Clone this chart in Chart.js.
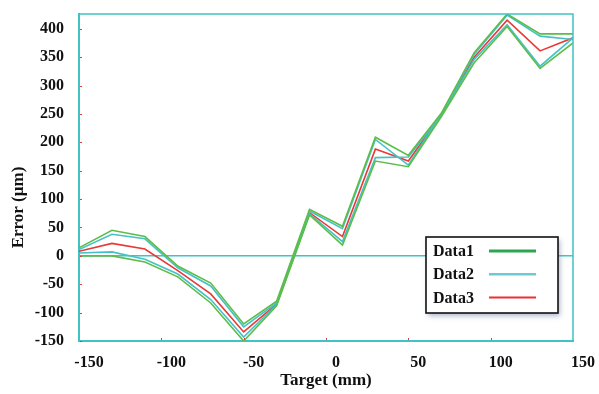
<!DOCTYPE html>
<html>
<head>
<meta charset="utf-8">
<script src="https://cdn.jsdelivr.net/npm/chart.js@4.4.1/dist/chart.umd.min.js"></script>
<style>
  html, body { margin: 0; padding: 0; background: #fff; }
</style>
</head>
<body>
<canvas id="chart" width="599" height="394"></canvas>
<script>
// target positions (mm)
const targets = [-150, -130, -110, -90, -70, -50, -30, -10, 10, 30, 50, 70, 90, 110, 130, 150];

// error traces (um); Data1 and Data2 each come as an upper and a lower trace
const data1Upper = [14, 45, 34, -18, -48, -120, -80, 82, 52, 209, 177, 251, 358, 426, 391, 391];
const data1Lower = [0, 0, -11, -37, -83, -150, -88, 72, 19, 167, 157, 245, 340, 404, 330, 375];
const data2Upper = [11, 38, 30, -21, -53, -125, -83, 79, 48, 205, 160, 249, 355, 424, 387, 381];
const data2Lower = [5, 7, -6, -32, -77, -143, -86, 74, 25, 173, 174, 247, 346, 407, 334, 384];
const data3 = [8, 22, 12, -26, -67, -134, -85, 76, 34, 188, 167, 248, 350, 415, 361, 384];

const legendLabels = ['Data1', 'Data2', 'Data3'];
const xTicks = [-150, -100, -50, 0, 50, 100, 150];
const yTicks = [-150, -100, -50, 0, 50, 100, 150, 200, 250, 300, 350, 400];

const GREEN = '#5cbd48';
const CYAN = '#45c2c8';
const RED = '#e83838';
const FRAME = '#3fc3c3';
const FONT = '"Liberation Serif", "Times New Roman", serif';

// legend swatches are drawn a bit heavier than the traces
const legendStyles = [
  { color: '#2fa552', width: 3 },
  { color: '#6ccbd2', width: 2.5 },
  { color: '#ee2f2f', width: 2 }
];

function trace(label, values, color) {
  return {
    label,
    data: targets.map((x, i) => ({ x, y: values[i] })),
    borderColor: color,
    borderWidth: 1.6,
    pointRadius: 0,
    tension: 0,
    fill: false
  };
}

// frame, small red tick marks, y title and the boxed legend
const decorations = {
  id: 'decorations',
  afterDraw(chart) {
    const { ctx, chartArea: a, scales } = chart;
    ctx.save();

    ctx.strokeStyle = FRAME;
    ctx.lineWidth = 1.5;
    ctx.beginPath();
    ctx.moveTo(a.left, a.top);
    ctx.lineTo(a.right, a.top);
    ctx.lineTo(a.right, a.bottom);
    ctx.stroke();

    ctx.fillStyle = RED;
    yTicks.forEach(v => {
      const y = scales.y.getPixelForValue(v);
      ctx.fillRect(a.left + 1, Math.round(y), 2, 1);
    });
    xTicks.slice(1, -1).forEach(v => {
      const x = scales.x.getPixelForValue(v);
      ctx.fillRect(Math.round(x), a.bottom - 3, 1, 2);
    });

    // y axis title
    ctx.fillStyle = '#111';
    ctx.font = 'bold 17px ' + FONT;
    ctx.textAlign = 'center';
    ctx.textBaseline = 'middle';
    ctx.translate(19, (a.top + a.bottom) / 2 + 30);
    ctx.rotate(-Math.PI / 2);
    ctx.fillText('Error (\u00b5m)', 0, 0);
    ctx.restore();

    // legend box
    ctx.save();
    const bx = a.right - 147, by = a.top + 223, bw = 132, bh = 76;
    ctx.shadowColor = 'rgba(110, 130, 170, 0.55)';
    ctx.shadowBlur = 5;
    ctx.shadowOffsetX = 2;
    ctx.shadowOffsetY = 3;
    ctx.fillStyle = '#fff';
    ctx.fillRect(bx, by, bw, bh);
    ctx.shadowColor = 'transparent';
    ctx.strokeStyle = '#111';
    ctx.lineWidth = 1.6;
    ctx.strokeRect(bx, by, bw, bh);

    ctx.font = 'bold 16px ' + FONT;
    ctx.textAlign = 'left';
    ctx.textBaseline = 'middle';
    legendLabels.forEach((label, i) => {
      const y = by + 15 + i * 23.3;
      ctx.fillStyle = '#111';
      ctx.fillText(label, bx + 7, y);
      ctx.strokeStyle = legendStyles[i].color;
      ctx.lineWidth = legendStyles[i].width;
      ctx.beginPath();
      ctx.moveTo(bx + 63, y - 1);
      ctx.lineTo(bx + 110, y - 1);
      ctx.stroke();
    });
    ctx.restore();
  }
};

new Chart(document.getElementById('chart'), {
  type: 'line',
  data: {
    datasets: [
      trace('Data1', data1Upper, GREEN),
      trace('Data1', data1Lower, GREEN),
      trace('Data2', data2Upper, CYAN),
      trace('Data2', data2Lower, CYAN),
      trace('Data3', data3, RED)
    ]
  },
  options: {
    responsive: false,
    animation: false,
    layout: { padding: { top: 14, right: 26, left: 0, bottom: 0 } },
    plugins: {
      legend: { display: false },
      tooltip: { enabled: false }
    },
    scales: {
      x: {
        type: 'linear',
        min: -150,
        max: 150,
        afterBuildTicks: s => { s.ticks = xTicks.map(value => ({ value })); },
        afterFit: s => { s.height = 53; },
        grid: { drawOnChartArea: false, drawTicks: false, color: 'transparent' },
        border: { color: FRAME, width: 2 },
        ticks: {
          color: '#111',
          font: { family: FONT, size: 16, weight: 'bold' },
          padding: 12,
          labelOffset: 10,
          maxRotation: 0
        },
        title: {
          display: true,
          text: 'Target (mm)',
          color: '#111',
          font: { family: FONT, size: 17, weight: 'bold' },
          padding: { top: 0, bottom: 3 },
          align: 'center'
        }
      },
      y: {
        min: -150,
        max: 426,
        afterBuildTicks: s => { s.ticks = yTicks.map(value => ({ value })); },
        afterFit: s => {
          s.width = 79;
          s.paddingTop = 0;
          s.paddingBottom = 0;
        },
        grid: {
          drawTicks: false,
          lineWidth: 1.5,
          color: c => (c.tick && c.tick.value === 0 ? FRAME : 'transparent')
        },
        border: { color: FRAME, width: 2 },
        ticks: {
          color: '#111',
          font: { family: FONT, size: 16, weight: 'bold' },
          padding: 15
        }
      }
    }
  },
  plugins: [decorations]
});
</script>
</body>
</html>
